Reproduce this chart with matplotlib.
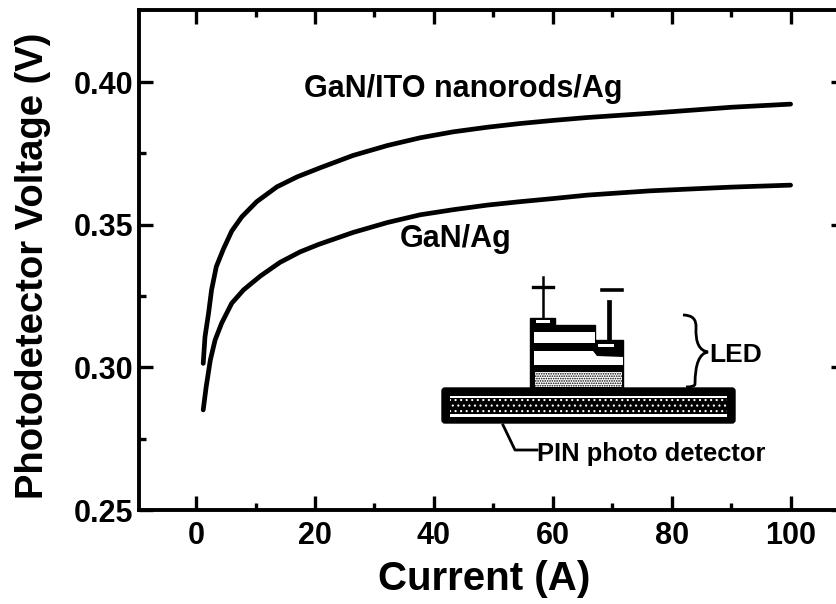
#!/usr/bin/env python3

import numpy as np
import matplotlib
matplotlib.use('Agg')
import matplotlib.pyplot as plt
from matplotlib.path import Path
from matplotlib.patches import PathPatch, Polygon, Rectangle, FancyBboxPatch

plt.rcParams['font.family'] = ['Liberation Sans', 'DejaVu Sans']
plt.rcParams['font.weight'] = 'bold'
plt.rcParams['hatch.linewidth'] = 0.8

current_ito = [1.2, 1.5, 2.1, 2.6, 3.4, 4.6, 6.0, 7.7, 10.2, 13.6, 17.0, 20.9,
               26.4, 32.2, 37.7, 43.3, 49.0, 54.5, 60.1, 65.8, 71.4, 76.4, 90, 100]
voltage_ito = [0.3014, 0.3107, 0.3190, 0.3271, 0.3353, 0.3415, 0.3478, 0.3528,
               0.3581, 0.3633, 0.3668, 0.3700, 0.3743, 0.3778, 0.3805, 0.3826,
               0.3842, 0.3855, 0.3866, 0.3876, 0.3884, 0.3891, 0.3912, 0.3923]
current_ag = [1.2, 1.7, 2.4, 3.2, 4.3, 6.0, 8.0, 10.8, 14.1, 17.5, 20.6,
              26.4, 32.2, 37.7, 43.3, 49.0, 54.5, 60.1, 65.8, 71.4, 76.4, 90, 100]
voltage_ag = [0.2851, 0.2932, 0.3026, 0.3096, 0.3155, 0.3225, 0.3272, 0.3320,
              0.3368, 0.3405, 0.3431, 0.3473, 0.3508, 0.3535, 0.3553, 0.3569,
              0.3581, 0.3592, 0.3604, 0.3612, 0.3619, 0.3632, 0.3639]

x_ticks = [0, 20, 40, 60, 80, 100]
y_ticks = [0.25, 0.30, 0.35, 0.40]

W, H = 836, 604
fig = plt.figure(figsize=(W / 100, H / 100), dpi=100)

# The right spine sits just past the edge of the scan.
ax = fig.add_axes([139 / W, (H - 510) / H, 706 / W, 500 / H])
ax.set_xlim(-9.6, 109.15)
ax.set_ylim(0.25, 0.4253)
ax.plot(current_ito, voltage_ito, c='k', lw=3.4, solid_capstyle='round')
ax.plot(current_ag, voltage_ag, c='k', lw=3.4, solid_capstyle='round')

ax.set_xticks(x_ticks)
ax.set_yticks(y_ticks)
ax.set_yticklabels(['%.2f' % v for v in y_ticks])
ax.set_xticks(np.arange(10, 110, 20), minor=True)
ax.set_yticks([0.275, 0.325, 0.375], minor=True)
ax.tick_params(which='major', direction='in', length=10, width=2.4, top=True,
               right=True, labelsize=22)
ax.tick_params(axis='y', which='major', pad=4)
ax.tick_params(axis='x', which='major', pad=8)
ax.tick_params(which='minor', direction='in', length=5, width=2.4, top=True,
               right=True)
for s in ax.spines.values():
    s.set_linewidth(2.8)

fig.text(484 / W, 1 - 579 / H, 'Current (A)', fontsize=29, ha='center',
         va='center')
fig.text(33 / W, 1 - 266 / H, 'Photodetector Voltage (V)', fontsize=27.5,
         rotation=90, ha='center', va='center')

# Overlay in image pixels for the labels and the device sketch.
ov = fig.add_axes([0, 0, 1, 1], facecolor='none')
ov.set_xlim(0, W)
ov.set_ylim(H, 0)
ov.axis('off')

ov.text(463, 89, 'GaN/ITO nanorods/Ag', fontsize=22, ha='center', va='center')
ov.text(456, 239, 'GaN/Ag', fontsize=22, ha='center', va='center')
ov.text(736, 355, 'LED', fontsize=19, ha='center', va='center')
ov.text(651, 454, 'PIN photo detector', fontsize=18.4, ha='center', va='center')

# LED stack
ov.add_patch(Polygon([(530, 388), (530, 318), (555, 318), (555, 325), (595, 325),
                      (595, 340), (623, 340), (623, 388)], fc='k', ec='k', lw=1))
ov.add_patch(Rectangle((534, 332), 61, 11, fc='w', ec='none'))
ov.add_patch(Polygon([(534, 351), (593, 351), (597, 356), (623, 357), (623, 365),
                      (534, 365)], fc='w', ec='none'))
ov.add_patch(Rectangle((535, 372), 87, 15, fc='w', ec='k', lw=0, hatch='.......'))
ov.add_patch(Rectangle((536, 320), 14, 2.5, fc='w', ec='none'))
ov.add_patch(Rectangle((598, 344), 16, 3, fc='w', ec='none'))

# Contacts
ov.plot([533, 553], [287, 287], c='k', lw=2.4)
ov.plot([543, 543], [277, 317], c='k', lw=1.8)
ov.plot([602, 622], [290, 290], c='k', lw=2.6)
ov.plot([609, 609], [302, 341], c='k', lw=3.4)

# Detector slab
ov.add_patch(FancyBboxPatch((445, 391), 287, 29, boxstyle='round,pad=3',
                            fc='k', ec='k', lw=1))
ov.add_patch(Rectangle((450, 396), 277, 2, fc='w', ec='none'))
ov.add_patch(Rectangle((450, 414), 277, 2.5, fc='w', ec='none'))
ov.add_patch(Rectangle((450, 399), 277, 14, fc='k', ec='w', lw=0, hatch='...'))

# Brace and leader
brace = Path([(683, 315), (697, 315), (696, 328), (695, 350), (708, 352),
              (695, 354), (695, 384), (695, 387), (686, 387)],
             [Path.MOVETO, Path.CURVE3, Path.CURVE3, Path.CURVE3, Path.CURVE3,
              Path.CURVE3, Path.CURVE3, Path.CURVE3, Path.CURVE3])
ov.add_patch(PathPatch(brace, fc='none', ec='k', lw=2))
ov.plot([503, 515, 537], [425, 450, 450], c='k', lw=2)

fig.savefig('out.png', dpi=100)
